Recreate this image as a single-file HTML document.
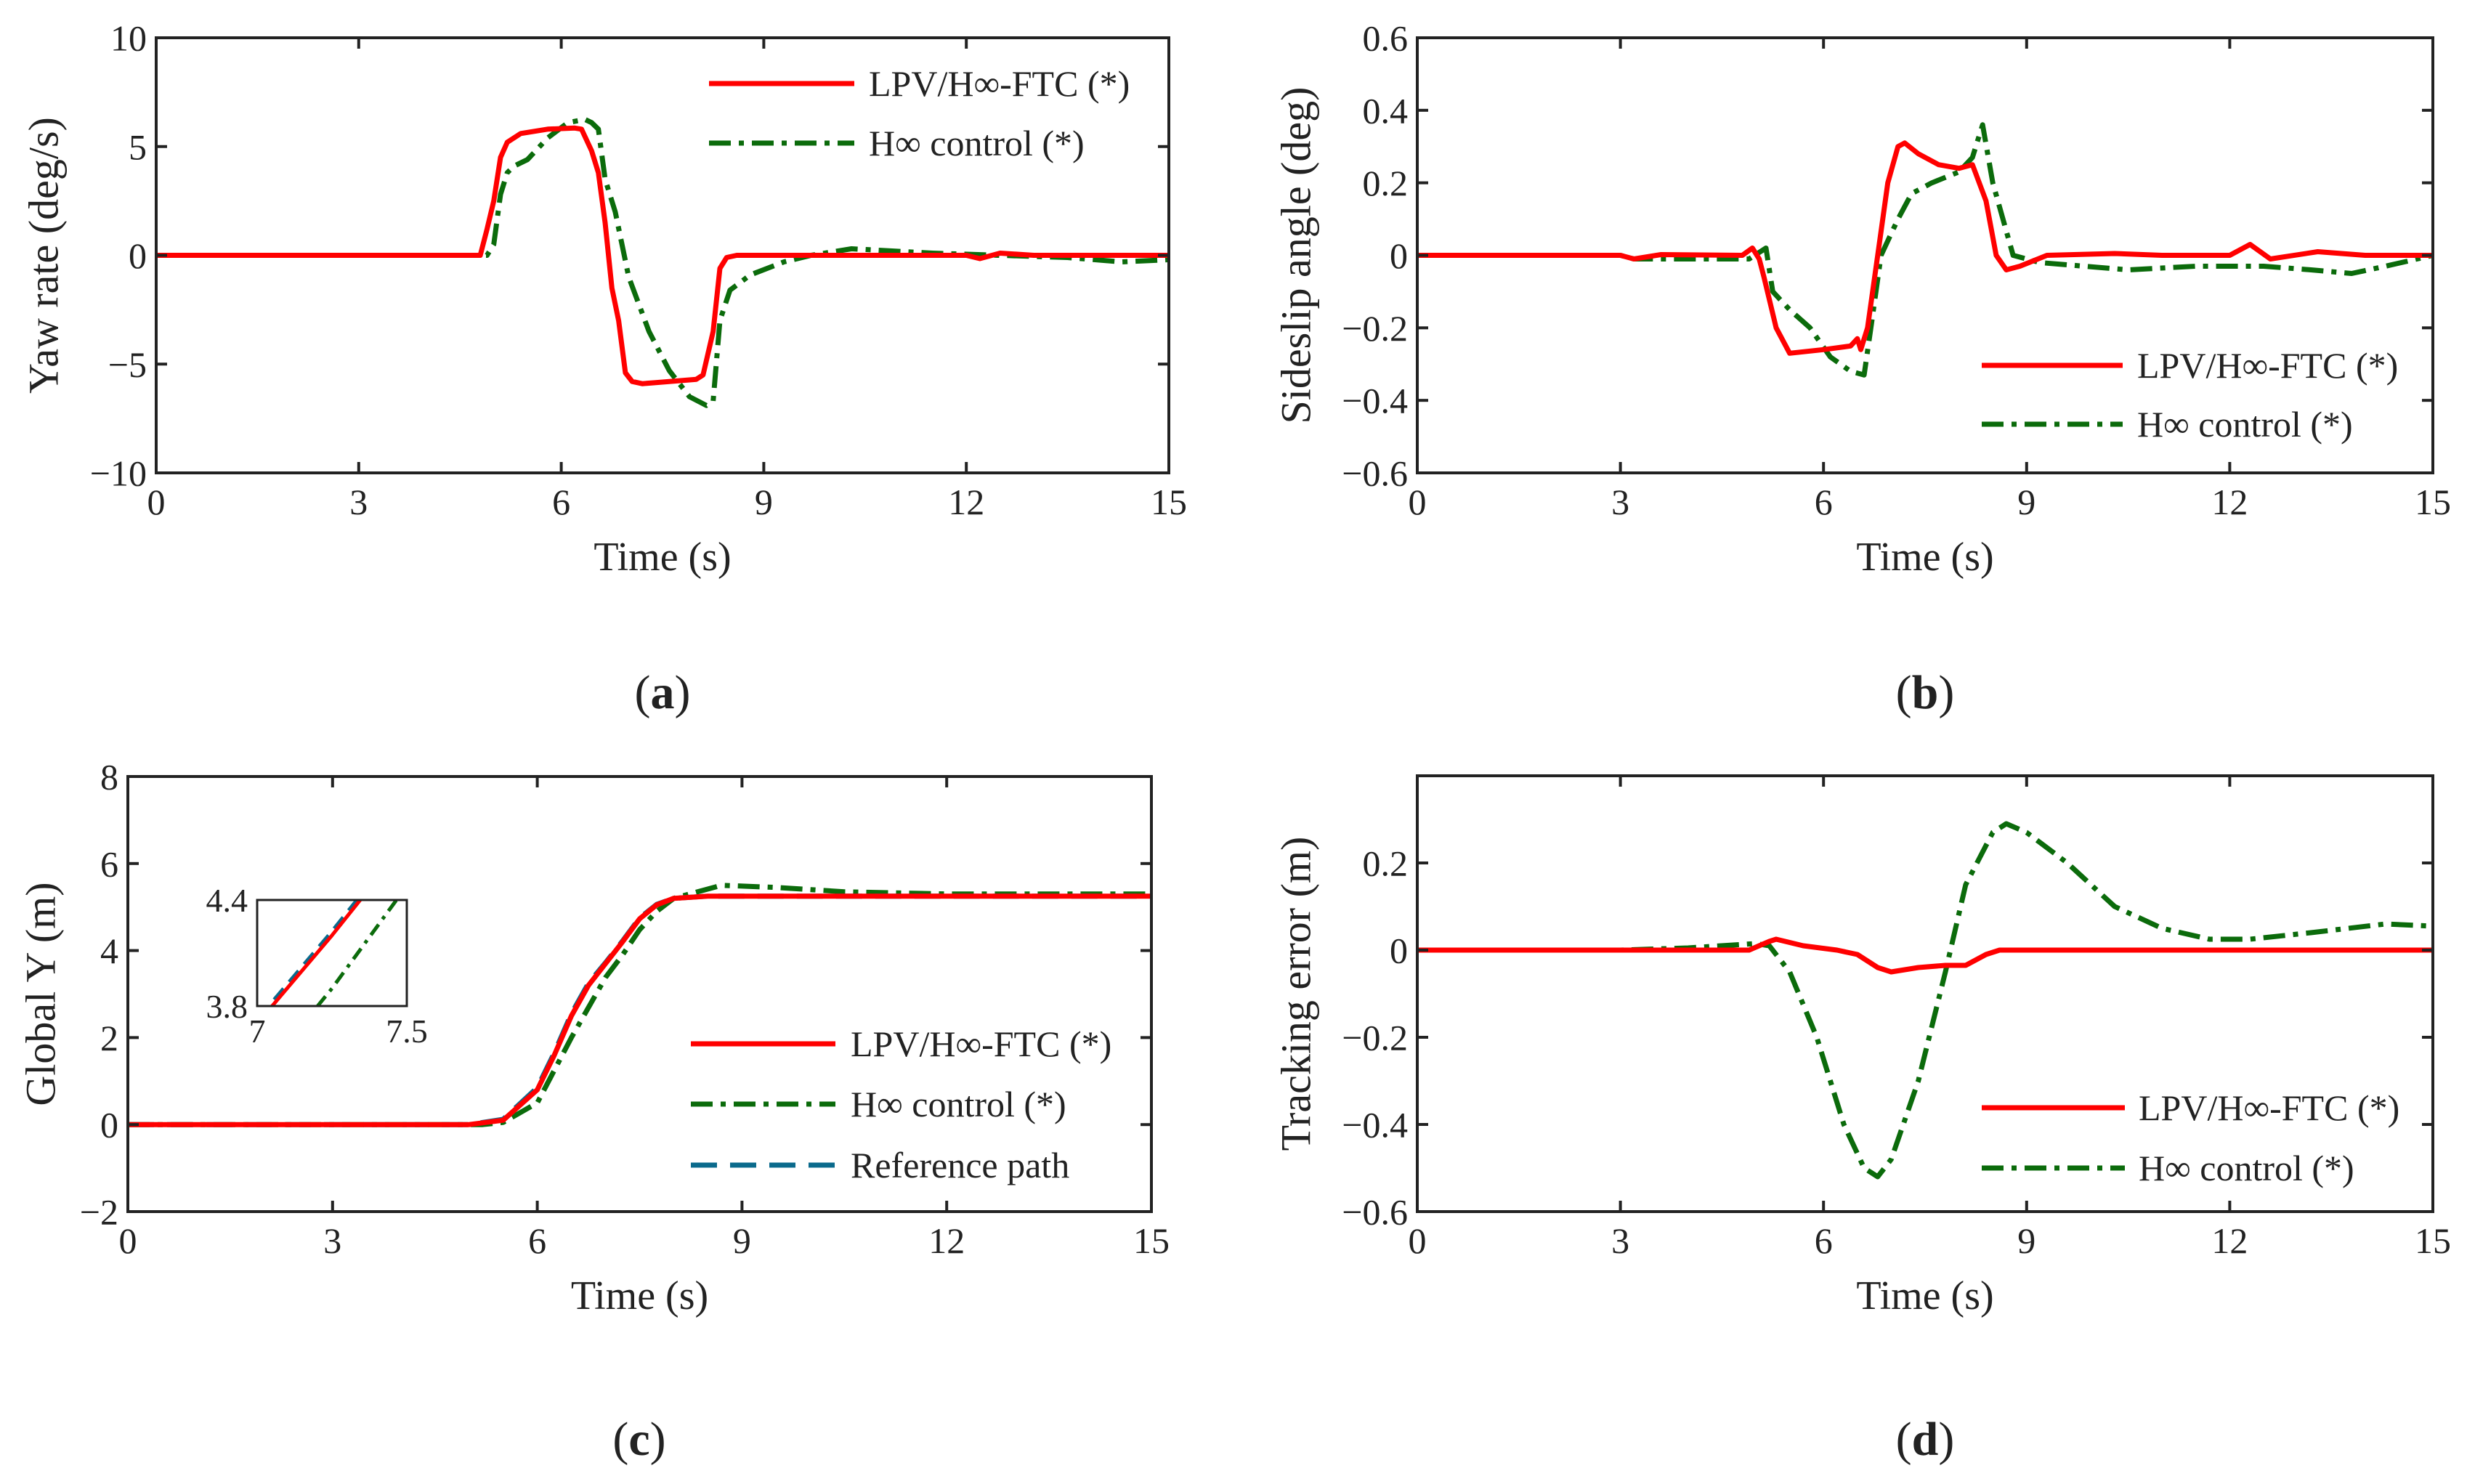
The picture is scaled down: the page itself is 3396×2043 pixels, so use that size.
<!DOCTYPE html>
<html><head><meta charset="utf-8">
<style>
html,body{margin:0;padding:0;background:#fff;width:3396px;height:2043px;overflow:hidden;}
svg{display:block;position:absolute;left:0;top:0;}
text{font-family:"Liberation Serif",serif;fill:#222;}
</style></head>
<body>
<svg id="fig" width="3396" height="2043" viewBox="0 0 3396 2043" xmlns="http://www.w3.org/2000/svg"></svg>
<script>
// ---- data (time in s) ----
const yawRedT   = [0,4.8,4.9,5.0,5.1,5.2,5.4,5.8,6.2,6.3,6.45,6.55,6.65,6.75,6.85,6.95,7.05,7.2,7.4,7.6,8.0,8.1,8.25,8.35,8.45,8.6,9,10,11,12,12.2,12.5,13,14,15];
const yawRedV   = [0,0,1.2,2.5,4.5,5.2,5.6,5.8,5.85,5.8,4.8,3.8,1.5,-1.5,-3,-5.4,-5.8,-5.9,-5.85,-5.8,-5.7,-5.5,-3.5,-0.6,-0.1,0,0,0,0,0,-0.15,0.1,0,0,0];
const yawGreenT = [0,4.9,5.0,5.1,5.2,5.3,5.5,5.8,6.1,6.35,6.45,6.55,6.65,6.8,7.0,7.3,7.6,7.9,8.15,8.25,8.35,8.5,8.8,9.3,9.7,10.3,11.5,12.5,13.5,14.3,15];
const yawGreenV = [0,0,0.5,2.8,3.8,4.1,4.4,5.4,6.1,6.25,6.1,5.8,3.5,2,-1,-3.5,-5.3,-6.5,-6.9,-6.7,-3,-1.6,-0.9,-0.3,0,0.3,0.1,0,-0.1,-0.3,-0.2];

const betaRedT   = [0,3,3.2,3.6,4.8,4.95,5.05,5.12,5.3,5.5,6.0,6.4,6.5,6.55,6.65,6.8,6.95,7.1,7.2,7.4,7.7,8.0,8.2,8.4,8.55,8.7,8.9,9.3,10.3,11,12,12.3,12.6,13.3,14,15];
const betaRedV   = [0,0,-0.01,0.002,0,0.02,-0.01,-0.06,-0.2,-0.27,-0.26,-0.25,-0.23,-0.26,-0.2,0,0.2,0.3,0.31,0.28,0.25,0.24,0.25,0.15,0.0,-0.04,-0.03,0,0.005,0,0,0.03,-0.01,0.01,0,0];
const betaGreenT = [0,3,3.2,4.9,5.15,5.25,5.5,5.8,6.1,6.4,6.6,6.7,6.85,7.1,7.3,7.6,8.0,8.2,8.35,8.5,8.8,9.2,10.5,11.5,12.5,13.2,13.8,14.3,15];
const betaGreenV = [0,0,-0.01,-0.01,0.02,-0.1,-0.15,-0.2,-0.28,-0.32,-0.33,-0.2,0,0.1,0.17,0.2,0.23,0.27,0.36,0.2,0,-0.02,-0.04,-0.03,-0.03,-0.04,-0.05,-0.03,0];

const gyT      = [0,5,5.5,6,6.25,6.5,6.75,7,7.25,7.5,7.75,8,8.5,9,12,15];
const gyRedV   = [0,0,0.1,0.8,1.6,2.5,3.2,3.7,4.2,4.73,5.05,5.2,5.25,5.25,5.25,5.25];
const gyRefV   = [0,0,0.12,0.85,1.65,2.55,3.25,3.72,4.22,4.75,5.06,5.2,5.25,5.25,5.25,5.25];
const gyGreenT = [0,5.2,5.5,6,6.5,7,7.25,7.5,7.75,8,8.7,9.5,10.5,12,15];
const gyGreenV = [0,0,0.05,0.5,2,3.38,3.9,4.48,4.9,5.2,5.5,5.45,5.35,5.3,5.3];

const errRedT   = [0,4.9,5.2,5.3,5.7,6.2,6.5,6.8,7.0,7.4,7.8,8.1,8.4,8.6,15];
const errRedV   = [0,0,0.02,0.025,0.01,0,-0.01,-0.04,-0.05,-0.04,-0.035,-0.035,-0.01,0,0];
const errGreenT = [0,3,4,5,5.2,5.5,5.9,6.3,6.6,6.8,7.0,7.4,7.8,8.1,8.5,8.7,9.0,9.6,10.3,11,11.7,12.3,13.2,14.3,15];
const errGreenV = [0,0,0.005,0.015,0.01,-0.05,-0.2,-0.4,-0.5,-0.52,-0.48,-0.3,-0.05,0.15,0.27,0.29,0.27,0.2,0.1,0.05,0.025,0.025,0.04,0.06,0.055];

const xTicks = [0,3,6,9,12,15];
const yTicksA = [-10,-5,0,5,10];
const yTicksB = [-0.6,-0.4,-0.2,0,0.2,0.4,0.6];
const yTicksC = [-2,0,2,4,6,8];
const yTicksD = [-0.6,-0.4,-0.2,0,0.2];

const NS='http://www.w3.org/2000/svg';
const svg=document.getElementById('fig');
const RED='#ff0000', GREEN='#0b6b0b', BLUE='#0a6a8c', AX='#222';
function el(tag,attrs,parent){const e=document.createElementNS(NS,tag);for(const k in attrs)e.setAttribute(k,attrs[k]);(parent||svg).appendChild(e);return e;}
function fmt(v){const s=(Math.abs(v)<1e-9)?'0':String(+v.toFixed(2));return s.replace('-','\u2212');}

function makePlot(o){
  const g=el('g',{});
  
  
  const X=v=>o.x0+(v-o.xmin)/(o.xmax-o.xmin)*(o.x1-o.x0);
  const Y=v=>o.y1-(v-o.ymin)/(o.ymax-o.ymin)*(o.y1-o.y0);
  const cid='clip'+o.name;
  const cp=el('clipPath',{id:cid},g);el('rect',{x:o.x0,y:o.y0,width:o.x1-o.x0,height:o.y1-o.y0},cp);
  const sg=el('g',{'clip-path':'url(#'+cid+')'},g);
  o.series.forEach(s=>{
    const pts=s.t.map((t,i)=>X(t).toFixed(1)+','+Y(s.v[i]).toFixed(1)).join(' ');
    const p=el('polyline',{points:pts,fill:'none',stroke:s.color,'stroke-width':s.w||5,'stroke-linejoin':'round','stroke-dasharray':s.dash||'none'},sg);
    
    
  });
  const fr=el('rect',{x:o.x0,y:o.y0,width:o.x1-o.x0,height:o.y1-o.y0,fill:'none',stroke:AX,'stroke-width':o.fw||4},g);
  
  
  const tl=o.tl||15;
  o.xt.forEach(v=>{
    el('line',{x1:X(v),x2:X(v),y1:o.y1,y2:o.y1-tl,stroke:AX,'stroke-width':o.fw||4},g);
    el('line',{x1:X(v),x2:X(v),y1:o.y0,y2:o.y0+tl,stroke:AX,'stroke-width':o.fw||4},g);
    const t=el('text',{x:X(v),y:o.y1+(o.xlo||57),'font-size':o.fs||50,'text-anchor':'middle'},g);
    t.textContent=fmt(v);
    
    
  });
  o.yt.forEach(v=>{
    el('line',{x1:o.x0,x2:o.x0+tl,y1:Y(v),y2:Y(v),stroke:AX,'stroke-width':o.fw||4},g);
    el('line',{x1:o.x1,x2:o.x1-tl,y1:Y(v),y2:Y(v),stroke:AX,'stroke-width':o.fw||4},g);
    const t=el('text',{x:o.x0-13,y:Y(v)+(o.fs||50)*0.35,'font-size':o.fs||50,'text-anchor':'end'},g);
    t.textContent=fmt(v);
    
    
  });
  if(o.xlabel){
    const t=el('text',{x:(o.x0+o.x1)/2,y:o.y1+134,'font-size':56,'text-anchor':'middle'},g);
    t.textContent=o.xlabel;
    
    
  }
  if(o.ylabel){
    const cy=(o.y0+o.y1)/2;
    const t=el('text',{x:o.ylx,y:cy,'font-size':58,'text-anchor':'middle',transform:'rotate(-90 '+o.ylx+' '+cy+')','dominant-baseline':'central'},g);
    t.textContent=o.ylabel;
    
    
  }
  if(o.legend){
    o.legend.forEach((L,i)=>{
      const y=L.y;
      const ln=el('line',{x1:L.x1,x2:L.x2,y1:y,y2:y,stroke:L.color,'stroke-width':L.w||7,'stroke-dasharray':L.dash||'none'},g);
      
      
      const t=el('text',{x:L.tx,y:y+17,'font-size':50},g);
      t.textContent=L.label;
      
      
    });
  }
  return {X,Y,g};
}
const DD='30 11 7 11', DASH='36 18';

makePlot({name:'plot-yaw-rate',x0:215,x1:1609,y0:52,y1:651,xmin:0,xmax:15,ymin:-10,ymax:10,xt:xTicks,yt:yTicksA,
  xlabel:'Time (s)',ylabel:'Yaw rate (deg/s)',ylx:60,
  series:[{name:'yaw-hinf-line',t:yawGreenT,v:yawGreenV,color:GREEN,dash:DD,w:7},{name:'yaw-lpv-line',t:yawRedT,v:yawRedV,color:RED,w:7}],
  legend:[{x1:976,x2:1176,y:115,tx:1196,color:RED,label:'LPV/H\u221E-FTC (*)'},{x1:976,x2:1176,y:197,tx:1196,color:GREEN,dash:DD,label:'H\u221E control (*)'}]});

makePlot({name:'plot-sideslip',x0:1951,x1:3349,y0:52,y1:651,xmin:0,xmax:15,ymin:-0.6,ymax:0.6,xt:xTicks,yt:yTicksB,
  xlabel:'Time (s)',ylabel:'Sideslip angle (deg)',ylx:1784,
  series:[{name:'sideslip-hinf-line',t:betaGreenT,v:betaGreenV,color:GREEN,dash:DD,w:7},{name:'sideslip-lpv-line',t:betaRedT,v:betaRedV,color:RED,w:7}],
  legend:[{x1:2728,x2:2922,y:503,tx:2942,color:RED,label:'LPV/H\u221E-FTC (*)'},{x1:2728,x2:2922,y:584,tx:2942,color:GREEN,dash:DD,label:'H\u221E control (*)'}]});

makePlot({name:'plot-global-y',x0:176,x1:1585,y0:1069,y1:1668,xmin:0,xmax:15,ymin:-2,ymax:8,xt:xTicks,yt:yTicksC,
  xlabel:'Time (s)',ylabel:'Global Y (m)',ylx:56,
  series:[{name:'gy-hinf-line',t:gyGreenT,v:gyGreenV,color:GREEN,dash:DD,w:7},{name:'gy-ref-line',t:gyT,v:gyRefV,color:BLUE,dash:DASH,w:7},{name:'gy-lpv-line',t:gyT,v:gyRedV,color:RED,w:7}],
  legend:[{x1:951,x2:1150,y:1437,tx:1171,color:RED,label:'LPV/H\u221E-FTC (*)'},{x1:951,x2:1150,y:1520,tx:1171,color:GREEN,dash:DD,label:'H\u221E control (*)'},{x1:951,x2:1150,y:1604,tx:1171,color:BLUE,dash:DASH,label:'Reference path'}]});

makePlot({name:'inset-global-y',x0:354,x1:560,y0:1239,y1:1385,xmin:7,xmax:7.5,ymin:3.8,ymax:4.4,xt:[7,7.5],yt:[3.8,4.4],fw:3,tl:0,fs:46,xlo:50,
  series:[{name:'inset-hinf-line',t:gyGreenT,v:gyGreenV,color:GREEN,dash:'18 9 5 9',w:5},{name:'inset-ref-line',t:gyT,v:gyRefV,color:BLUE,dash:'20 12',w:6},{name:'inset-lpv-line',t:gyT,v:gyRedV,color:RED,w:5}]});

makePlot({name:'plot-tracking-error',x0:1951,x1:3349,y0:1068,y1:1668,xmin:0,xmax:15,ymin:-0.6,ymax:0.4,xt:xTicks,yt:yTicksD,
  xlabel:'Time (s)',ylabel:'Tracking error (m)',ylx:1784,
  series:[{name:'err-hinf-line',t:errGreenT,v:errGreenV,color:GREEN,dash:DD,w:7},{name:'err-lpv-line',t:errRedT,v:errRedV,color:RED,w:7}],
  legend:[{x1:2728,x2:2925,y:1525,tx:2944,color:RED,label:'LPV/H\u221E-FTC (*)'},{x1:2728,x2:2925,y:1608,tx:2944,color:GREEN,dash:DD,label:'H\u221E control (*)'}]});

[['(a)',912,975],['(b)',2650,975],['(c)',880,2003],['(d)',2650,2003]].forEach(p=>{
  const t=el('text',{x:p[1],y:p[2],'font-size':66,'text-anchor':'middle'});
  t.innerHTML='(<tspan font-weight="bold">'+p[0][1]+'</tspan>)';
  
  
});
</script>
</body></html>
